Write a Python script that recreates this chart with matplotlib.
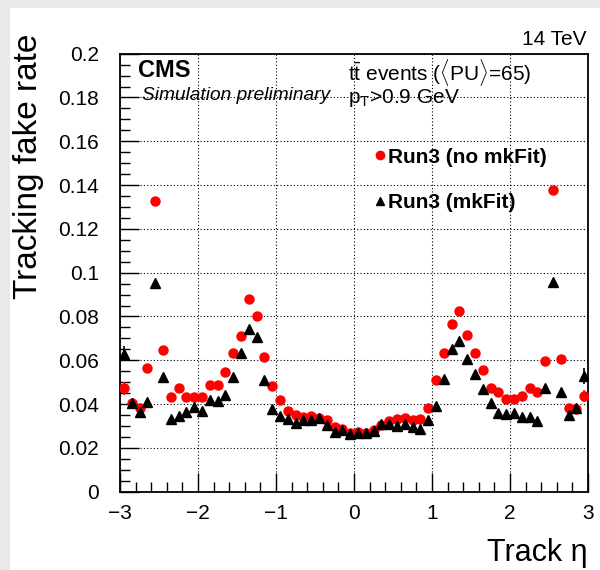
import numpy as np
import matplotlib
matplotlib.use("Agg")
from matplotlib import pyplot as plt
from matplotlib.patches import Rectangle
from matplotlib.lines import Line2D
from matplotlib.ticker import MultipleLocator

plt.rcParams['font.family'] = ['Liberation Sans', 'DejaVu Sans']
plt.rcParams['mathtext.fontset'] = 'custom'
plt.rcParams['mathtext.rm'] = 'Liberation Sans'

# track eta bin centres (60 bins of 0.1 from -3 to 3)
eta = np.round(np.arange(-2.95, 3.0, 0.1), 2)

# fake rate, Run3 without mkFit (red circles)
fake_nomkfit = [0.0472, 0.0406, 0.0381, 0.0563, 0.1327, 0.0647, 0.0431, 0.0472, 0.0431, 0.0434,
                0.0434, 0.0487, 0.0487, 0.0548, 0.0632, 0.0712, 0.0880, 0.0802, 0.0614, 0.0484,
                0.0419, 0.0368, 0.0350, 0.0342, 0.0345, 0.0338, 0.0327, 0.0297, 0.0285, 0.0267,
                0.0274, 0.0267, 0.0282, 0.0305, 0.0323, 0.0332, 0.0336, 0.0326, 0.0330, 0.0380,
                0.0510, 0.0632, 0.0766, 0.0825, 0.0716, 0.0632, 0.0556, 0.0475, 0.0454, 0.0422,
                0.0422, 0.0437, 0.0475, 0.0457, 0.0597, 0.1378, 0.0605, 0.0384, 0.0376, 0.0438]

# fake rate, Run3 with mkFit (black triangles)
fake_mkfit = [0.0629, 0.0406, 0.0365, 0.0411, 0.0954, 0.0522, 0.0331, 0.0347, 0.0362, 0.0385,
              0.0368, 0.0417, 0.0413, 0.0442, 0.0525, 0.0635, 0.0743, 0.0708, 0.0510, 0.0376,
              0.0346, 0.0331, 0.0315, 0.0327, 0.0327, 0.0335, 0.0305, 0.0274, 0.0282, 0.0263,
              0.0270, 0.0267, 0.0279, 0.0308, 0.0309, 0.0301, 0.0308, 0.0297, 0.0285, 0.0327,
              0.0391, 0.0515, 0.0652, 0.0688, 0.0606, 0.0537, 0.0467, 0.0404, 0.0358, 0.0353,
              0.0358, 0.0340, 0.0340, 0.0324, 0.0472, 0.0956, 0.0454, 0.0350, 0.0381, 0.0530]

# visible error bars (only the outermost bins)
err_nomkfit = [0.003] + [0.0] * 58 + [0.0027]
err_mkfit = [0.0034] + [0.0] * 58 + [0.0037]

fig = plt.figure(figsize=(6, 5.7), dpi=100)
fig.patch.set_facecolor('#e9e9e9')
fig.patches.append(Rectangle((10 / 600, 0), 1, 1 - 8 / 570, transform=fig.transFigure,
                             facecolor='white', edgecolor='none', zorder=-1))

ax = fig.add_axes([0.2, 0.1374, 0.78, 0.7684])

ax.errorbar(eta, fake_nomkfit, yerr=err_nomkfit, fmt='o', color='red', markersize=6.5,
            elinewidth=1.2, capsize=0, zorder=3)
ax.errorbar(eta, fake_mkfit, yerr=err_mkfit, fmt='^', color='black', markersize=6.5,
            elinewidth=1.2, capsize=0, zorder=4)

ax.set_xlim(-3, 3)
ax.set_ylim(0, 0.2)
ax.xaxis.set_minor_locator(MultipleLocator(0.2))
ax.yaxis.set_minor_locator(MultipleLocator(0.005))
ax.set_yticks([0, 0.02, 0.04, 0.06, 0.08, 0.1, 0.12, 0.14, 0.16, 0.18, 0.2])
ax.set_yticklabels(['0', '0.02', '0.04', '0.06', '0.08', '0.1', '0.12', '0.14', '0.16', '0.18', '0.2'])
ax.set_xticks([-3, -2, -1, 0, 1, 2, 3])
ax.set_xticklabels(['\u22123', '\u22122', '\u22121', '0', '1', '2', '3'])
ax.tick_params(which='both', direction='in', top=False, right=False, labelsize=15, colors='black')
ax.tick_params(which='major', length=14, width=1)
ax.tick_params(which='minor', length=7, width=1)
ax.tick_params(axis='x', pad=9)
ax.tick_params(axis='y', pad=15)
ax.grid(True, which='major', linestyle=(0, (1, 2)), color='black', linewidth=0.8)
ax.set_axisbelow(True)
for s in ax.spines.values():
    s.set_linewidth(1.3)

ax.set_ylabel('Tracking fake rate', fontsize=24)
ax.yaxis.set_label_coords(-0.163, 1.046)
ax.yaxis.label.set_horizontalalignment('right')
ax.set_xlabel('Track \u03b7', fontsize=22)
ax.xaxis.set_label_coords(1.0, -0.105)
ax.xaxis.label.set_horizontalalignment('right')

# CMS labels
fig.text(138 / 600, 1 - 77 / 570, 'CMS', fontsize=17, fontweight='bold', va='baseline')
fig.text(142 / 600, 1 - 100 / 570, 'Simulation preliminary', fontsize=13.8, style='italic',
         va='baseline')
fig.text(348 / 600, 1 - 80 / 570, 't$\\bar{\\rm t}$ events ($\\langle$PU$\\rangle$=65)',
         fontsize=15, va='baseline')
fig.text(348 / 600, 1 - 103 / 570, 'p$_{\\rm T}$>0.9 GeV', fontsize=15, va='baseline')
fig.text(586 / 600, 1 - 45 / 570, '14 TeV', fontsize=15, ha='right', va='baseline')

handles = [Line2D([], [], linestyle='none', marker='o', color='red', markersize=6),
           Line2D([], [], linestyle='none', marker='^', color='black', markersize=5.5)]
ax.legend(handles, ['Run3 (no mkFit)', 'Run3 (mkFit)'], loc='upper left',
          bbox_to_anchor=(356 / 600, 1 - 129 / 570),
          bbox_transform=fig.transFigure, frameon=False,
          handlelength=0.5, handletextpad=0.15, labelspacing=1.25,
          prop={'weight': 'bold', 'size': 15})

fig.savefig('out.png', dpi=100, facecolor=fig.get_facecolor())
